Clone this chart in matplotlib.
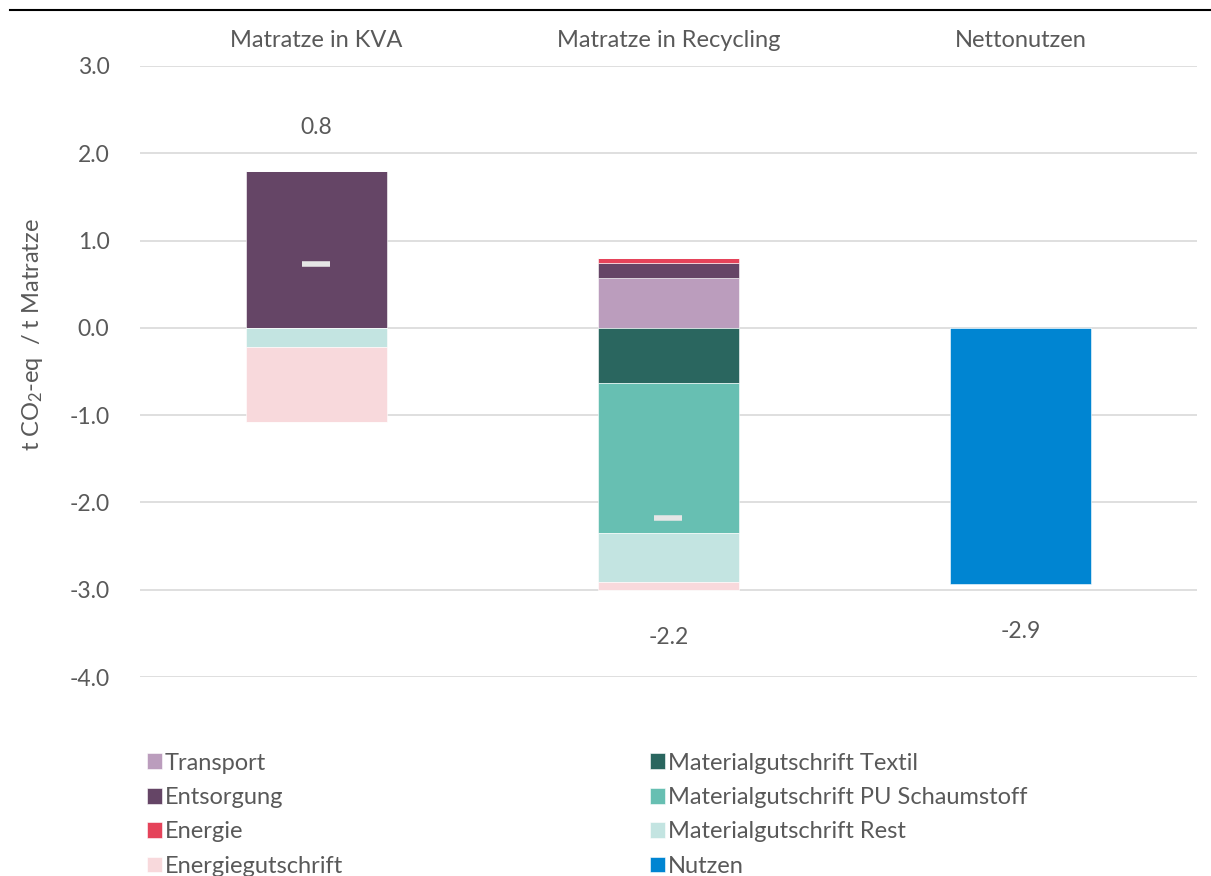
import matplotlib.pyplot as plt
from matplotlib.lines import Line2D
import numpy as np

plt.rcParams['font.family'] = ['Lato', 'DejaVu Sans']
plt.rcParams['mathtext.fontset'] = 'custom'
plt.rcParams['mathtext.rm'] = 'Lato'
plt.rcParams['mathtext.it'] = 'Lato'

# Daten (t CO2-eq / t Matratze)
kategorien = ["Matratze in KVA", "Matratze in Recycling", "Nettonutzen"]
serien = ["Transport", "Entsorgung", "Energie", "Energiegutschrift",
          "Materialgutschrift Textil", "Materialgutschrift PU Schaumstoff",
          "Materialgutschrift Rest", "Nutzen"]
farben = ["#BB9DBD", "#654566", "#E5435A", "#F8D9DC",
          "#2A665F", "#67BFB2", "#C3E4E1", "#0085D2"]

transport = [0.0, 0.57, 0.0]
entsorgung = [1.80, 0.175, 0.0]
energie = [0.0, 0.055, 0.0]
energiegutschrift = [-0.86, -0.09, 0.0]
textil = [0.0, -0.63, 0.0]
pu_schaum = [0.0, -1.72, 0.0]
rest = [-0.22, -0.56, 0.0]
nutzen = [0.0, 0.0, -2.93]

netto_marker = [0.73, -2.18]
label_text = ["0.8", "-2.2", "-2.9"]

werte = {
    "Transport": transport,
    "Entsorgung": entsorgung,
    "Energie": energie,
    "Energiegutschrift": energiegutschrift,
    "Materialgutschrift Textil": textil,
    "Materialgutschrift PU Schaumstoff": pu_schaum,
    "Materialgutschrift Rest": rest,
    "Nutzen": nutzen,
}
farbe = dict(zip(serien, farben))
# Stapelreihenfolge: positiv nach oben, negativ nach unten
stapel = ["Transport", "Entsorgung", "Energie",
          "Materialgutschrift Textil", "Materialgutschrift PU Schaumstoff",
          "Materialgutschrift Rest", "Energiegutschrift", "Nutzen"]

grau = "#595959"
fs = 16.5
fig = plt.figure(figsize=(12.11, 8.76), dpi=100)
ax = fig.add_axes([140/1211, 1-677/876, 1057/1211, 611/876])

x = np.arange(len(kategorien))
breite = 0.40
handles = {}
oben = np.zeros(3)
unten = np.zeros(3)
for s in stapel:
    v = np.array(werte[s])
    p = np.where(v > 0, v, 0)
    n = np.where(v < 0, v, 0)
    hb = ax.bar(x, p, breite, bottom=oben, color=farbe[s], edgecolor="white", linewidth=0.4, zorder=2)
    ax.bar(x, n, breite, bottom=unten, color=farbe[s], edgecolor="white", linewidth=0.4, zorder=2)
    oben += p
    unten += n
    handles[s] = hb

# Netto-Marker
ax.plot(x[:2], netto_marker, linestyle="none", marker="_", markersize=20,
        markeredgewidth=4, color="#E6E6E6", zorder=3)

# Beschriftungen
ax.text(x[0], oben[0] + 0.5, label_text[0], ha="center", va="center", fontsize=fs, color=grau)
ax.text(x[1], unten[1] - 0.55, label_text[1], ha="center", va="center", fontsize=fs, color=grau)
ax.text(x[2], unten[2] - 0.55, label_text[2], ha="center", va="center", fontsize=fs, color=grau)

ax.set_xlim(-0.5, 2.5)
ax.set_ylim(-4, 3)
ax.set_yticks(np.arange(-4, 3.1, 1))
ax.set_yticklabels([f"{t:.1f}" for t in np.arange(-4, 3.1, 1)], fontsize=fs, color=grau)
ax.xaxis.tick_top()
ax.set_xticks(x)
ax.set_xticklabels(kategorien, fontsize=17, color=grau)
ax.tick_params(length=0, axis="x", pad=11)
ax.tick_params(length=0, axis="y", pad=22)
ax.grid(axis="y", color="#D9D9D9", linewidth=1.2, zorder=0)
ax.set_axisbelow(True)
for sp in ax.spines.values():
    sp.set_visible(False)

ax.set_ylabel(r"t CO$_2$-eq  / t Matratze", fontsize=17, color=grau)
ax.yaxis.set_label_coords(-0.09, 0.56)

# Linie oben
fig.add_artist(Line2D([0.008, 1.0], [1-10/876, 1-10/876], color="black", linewidth=1.5))

leg = fig.legend([handles[s] for s in serien], serien, ncol=2, loc="upper left",
                 bbox_to_anchor=(130/1211, 1-736/876), frameon=False, fontsize=17,
                 handlelength=0.65, handleheight=0.65, handletextpad=0.12,
                 labelspacing=0.57, columnspacing=13.0, borderpad=0.2)
for t in leg.get_texts():
    t.set_color(grau)

fig.savefig("out.png", dpi=100)
